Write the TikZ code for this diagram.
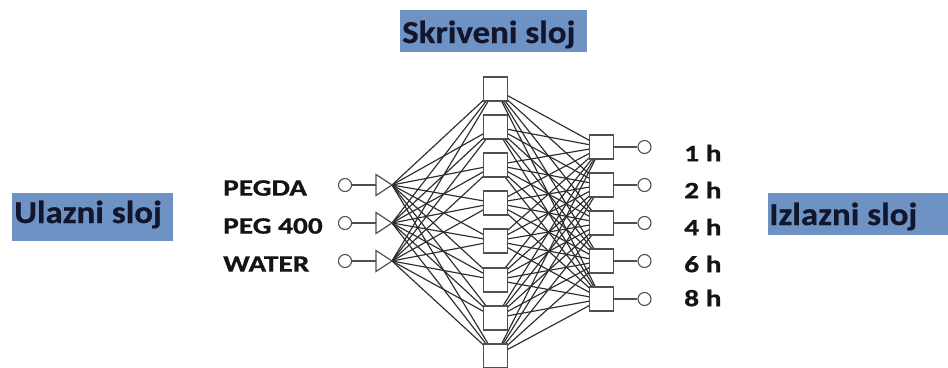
\documentclass[tikz,border=0pt]{standalone}
\usepackage{fontspec}
\newfontfamily\hdrfont{Carlito}[FakeStretch=1.09, FakeBold=0.6]
\newfontfamily\labfont{Carlito}[FakeStretch=1.25, FakeBold=0.8]
\definecolor{hdrfill}{RGB}{110,146,196}
\definecolor{hdrink}{RGB}{18,22,45}
\definecolor{netline}{RGB}{45,45,45}
\definecolor{boxline}{RGB}{80,80,80}
\tikzset{
  hdrbox/.style={fill=hdrfill, draw=none, inner sep=0pt, anchor=north west},
  hdrtext/.style={text=hdrink, font=\hdrfont\bfseries\fontsize{32}{38}\selectfont, inner sep=0pt, anchor=base west},
  labtext/.style={text=black!92, font=\labfont\bfseries\fontsize{23.5}{28}\selectfont, inner sep=0pt},
  unit/.style={draw=boxline, line width=1.4pt, fill=white, minimum size=24pt, inner sep=0pt},
  port/.style={circle, draw=boxline, line width=1.1pt, fill=white, minimum size=13pt, inner sep=0pt},
  link/.style={draw=netline, line width=1.15pt},
  lead/.style={draw=boxline, line width=1.2pt},
}
\begin{document}
\begin{tikzpicture}[x=1pt,y=-1pt]
\useasboundingbox (0,0) rectangle (948,367);
\clip (0,0) rectangle (948,367);
\fill[white] (0,0) rectangle (948,367);

% layer titles
\node[hdrbox, minimum width=161pt, minimum height=48pt] (inbox) at (12,193) {};
\node[hdrtext] (intitle) at (14,223) {Ulazni sloj};
\node[hdrbox, minimum width=187pt, minimum height=42pt] (hidbox) at (400,10) {};
\node[hdrtext] (hidtitle) at (402,43) {Skriveni sloj};
\node[hdrbox, minimum width=180pt, minimum height=42pt] (outbox) at (768,193) {};
\node[hdrtext] (outtitle) at (769,225) {Izlazni sloj};

% input rows: label, port, lead, triangle
\foreach \i/\y/\txt in {1/185/PEGDA, 2/223/PEG 400, 3/261/WATER} {
  \node[labtext, anchor=west] (lab\i) at (223,\y+3) {\txt};
  \node[port] (ic\i) at (345,\y) {};
  \coordinate (tb\i) at (376,\y);
  \coordinate (tip\i) at (392,\y);
  \draw[lead] (ic\i) -- (tb\i);
}

% hidden units
\foreach \j/\y in {1/89, 2/127, 3/165, 4/203, 5/241, 6/280, 7/318, 8/356}
  \coordinate (hc\j) at (495.5,\y);

% output units
\foreach \k/\y in {1/147, 2/185, 3/223, 4/261, 5/299}
  \coordinate (oc\k) at (601.5,\y);

% connections (drawn first, units drawn over them)
\foreach \i in {1,2,3}
  \foreach \j in {1,...,8}
    \draw[link] (tip\i) -- (hc\j);
\foreach \j in {1,...,8}
  \foreach \k in {1,...,5}
    \draw[link] (hc\j) -- (oc\k);

% input triangles
\foreach \i in {1,2,3}
  \draw[lead, fill=white, line join=miter] (tip\i) -- ([yshift=-10.5pt]tb\i) -- ([yshift=10.5pt]tb\i) -- cycle;

% hidden squares
\foreach \j in {1,...,8}
  \node[unit] (h\j) at (hc\j) {};

% output squares, ports and labels
\foreach \k/\txt/\ly in {1/1 h/153, 2/2 h/190, 3/4 h/227, 4/6 h/264, 5/8 h/298} {
  \node[unit] (o\k) at (oc\k) {};
  \node[port] (op\k) at ([xshift=43pt]oc\k) {};
  \draw[lead] (o\k) -- (op\k);
  \node[labtext, anchor=west] (olab\k) at (684,\ly) {\txt};
}
\end{tikzpicture}
\end{document}
